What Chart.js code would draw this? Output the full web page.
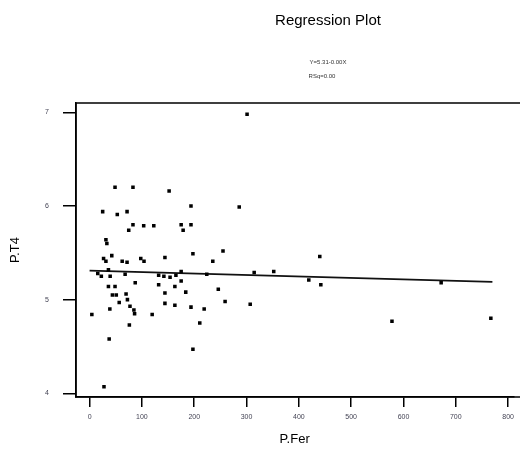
<!DOCTYPE html>
<html>
<head>
<meta charset="utf-8">
<script src="https://cdn.jsdelivr.net/npm/chart.js@4.4.1/dist/chart.umd.min.js"></script>
<style>
  html, body { margin: 0; padding: 0; background: #fff; }
  #wrap { width: 520px; height: 451px; }
</style>
</head>
<body>
<div id="wrap"><canvas id="plot" width="520" height="451"></canvas></div>
<script>
// P.Fer values (x) and P.T4 values (y)
const ferValues = [301, 48.6, 82.9, 152, 25, 52.9, 71.6, 193.8, 286, 82.9,
    74.8, 103.4, 122.7, 175, 193.8, 178.8, 31.2, 33, 197.5, 255,
    144, 42.4, 26.7, 31.2, 62.3, 71.6, 97.8, 104, 235.5, 36,
    15.6, 22.4, 67.9, 39.3, 132, 142, 153.8, 165, 175, 224,
    314.6, 352, 87.2, 132, 175, 36, 48.6, 163, 43.6, 51,
    69.7, 144, 183.8, 246, 72.3, 56.6, 144, 259, 38.7, 77.2,
    84.7, 163, 193.8, 219, 4.3, 86, 119.6, 76, 210.6, 37.4,
    197.5, 27.5, 440, 419, 442, 578, 672, 767, 307];
const t4Values = [6.98, 6.20, 6.20, 6.16, 5.94, 5.91, 5.94, 6.00, 5.99, 5.80,
    5.74, 5.79, 5.79, 5.80, 5.80, 5.74, 5.64, 5.60, 5.49, 5.52,
    5.45, 5.47, 5.44, 5.41, 5.41, 5.40, 5.44, 5.41, 5.41, 5.32,
    5.28, 5.25, 5.27, 5.25, 5.26, 5.25, 5.24, 5.26, 5.30, 5.27,
    5.29, 5.30, 5.18, 5.16, 5.20, 5.14, 5.14, 5.14, 5.05, 5.05,
    5.06, 5.07, 5.08, 5.11, 5.00, 4.97, 4.96, 4.98, 4.90, 4.93,
    4.89, 4.94, 4.92, 4.90, 4.84, 4.85, 4.84, 4.73, 4.75, 4.58,
    4.47, 4.07, 5.46, 5.21, 5.16, 4.77, 5.18, 4.80, 4.95];

// fitted line end points
const fitX = [0, 770];
const fitY = [5.31, 5.19];

const xTicks = [0, 100, 200, 300, 400, 500, 600, 700, 800];
const yTicks = [4, 5, 6, 7];

const titleText = 'Regression Plot';
const subLines = ['Y=5.31-0.00X', 'RSq=0.00'];

const points = ferValues.map((v, i) => ({ x: v, y: t4Values[i] }));
const fitPoints = fitX.map((v, i) => ({ x: v, y: fitY[i] }));

const fontFam = '"Liberation Sans Narrow", "Liberation Sans", Arial, sans-serif';

const frameAndTitle = {
    id: 'frameAndTitle',
    afterDraw(chart) {
        const ctx = chart.ctx;
        const a = chart.chartArea;
        ctx.save();
        // box runs off the right edge, as in the cropped original
        ctx.strokeStyle = '#000';
        ctx.lineWidth = 1.5;
        ctx.strokeRect(a.left, a.top, a.right - a.left + 30, a.bottom - a.top);
        ctx.fillStyle = '#000';
        ctx.textAlign = 'center';
        ctx.textBaseline = 'middle';
        ctx.font = '15px ' + fontFam;
        ctx.fillText(titleText, 328, 21);
        ctx.font = '6px ' + fontFam;
        ctx.fillStyle = '#333';
        ctx.fillText(subLines[0], 328, 62);
        ctx.fillText(subLines[1], 322, 76);
        ctx.restore();
    }
};

const canvas = document.getElementById('plot').getContext('2d');
new Chart(canvas, {
    type: 'scatter',
    data: {
        datasets: [
            {
                label: 'P.T4',
                data: points,
                pointStyle: 'rect',
                pointRadius: 2.5,
                backgroundColor: '#000',
                borderColor: '#000',
                borderWidth: 0
            },
            {
                type: 'line',
                label: 'fit',
                data: fitPoints,
                borderColor: '#111',
                borderWidth: 1.8,
                pointRadius: 0,
                fill: false
            }
        ]
    },
    options: {
        responsive: false,
        animation: false,
        layout: { padding: { left: 0, top: 103, right: 0, bottom: 0 } },
        plugins: { legend: { display: false }, tooltip: { enabled: false } },
        scales: {
            x: {
                type: 'linear',
                min: -26,
                max: 810,
                afterBuildTicks(scale) { scale.ticks = xTicks.map(v => ({ value: v })); },
                afterFit(scale) { scale.height = 54; },
                grid: { drawOnChartArea: false, drawTicks: true, tickLength: 10, color: '#000', lineWidth: 1.5 },
                border: { display: true, color: '#000', width: 1.5 },
                ticks: { font: { size: 7, family: fontFam }, color: '#445', padding: 6, maxRotation: 0 },
                title: { display: true, text: 'P.Fer', font: { size: 13, family: fontFam }, color: '#000', padding: { top: 2, bottom: 4 } }
            },
            y: {
                type: 'linear',
                min: 3.96,
                max: 7.1,
                afterBuildTicks(scale) { scale.ticks = yTicks.map(v => ({ value: v })); },
                afterFit(scale) { scale.width = 76; },
                grid: { drawOnChartArea: false, drawTicks: true, tickLength: 13, color: '#000', lineWidth: 1.5 },
                border: { display: true, color: '#000', width: 1.5 },
                ticks: { font: { size: 7, family: fontFam }, color: '#445', padding: 14 },
                title: { display: true, text: 'P.T4', font: { size: 13, family: fontFam }, color: '#000', padding: { top: 8, bottom: 0 } }
            }
        }
    },
    plugins: [frameAndTitle]
});
</script>
</body>
</html>
